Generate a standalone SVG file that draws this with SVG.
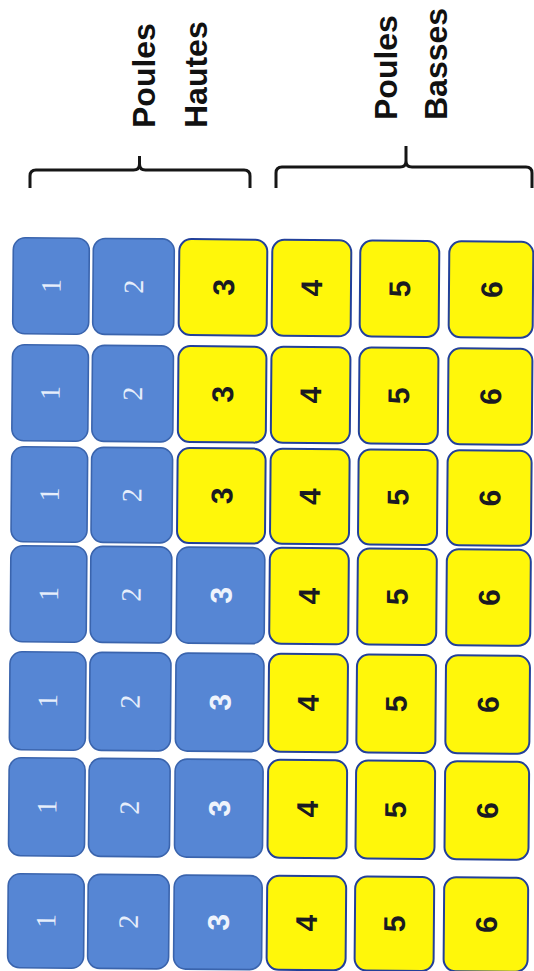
<svg xmlns="http://www.w3.org/2000/svg" width="534" height="971" viewBox="0 0 534 971">
<style>
.bg{fill:#ffffff}
.b rect{fill:#5686d4;stroke:#3a64ad;stroke-width:1.6}
.y rect{fill:#fff70a;stroke:#22409a;stroke-width:2}
.ns{font-family:"Liberation Serif","DejaVu Serif",serif;font-size:28px;fill:#e6eefb;text-anchor:middle}
.nb{font-family:"Liberation Sans","DejaVu Sans",sans-serif;font-weight:bold;font-size:30px;text-anchor:middle}
.y .nb{fill:#1a1a22}
.b .nb{fill:#eef3fc}
.lbl{font-family:"Liberation Sans","DejaVu Sans",sans-serif;font-weight:bold;font-size:32px;fill:#111111}
.br{fill:none;stroke:#161616;stroke-width:3;stroke-linecap:butt;stroke-linejoin:round}
</style>
<rect class="bg" x="0" y="0" width="534" height="971"/>
<g id="labels">
<text class="lbl" transform="translate(155,128) rotate(-90)">Poules</text>
<text class="lbl" transform="translate(207,128) rotate(-90)">Hautes</text>
<text class="lbl" transform="translate(397,120) rotate(-90)">Poules</text>
<text class="lbl" transform="translate(447,120) rotate(-90)">Basses</text>
</g>
<g id="connectors">
<path class="br" d="M30,188 V176 Q30,170 36,170 H133.5 Q139.5,170 139.5,164 V156 M139.5,164 Q139.5,170 145.5,170 H244 Q250,170 250,176 V188"/>
<path class="br" d="M276,188 V173 Q276,167 282,167 H400 Q406,167 406,161 V146 M406,161 Q406,167 412,167 H526 Q532,167 532,173 V188"/>
</g>
<g id="grid" transform="rotate(0.46 52 286)">
<!-- row 1 -->
<g id="r1c1" class="b"><rect x="13" y="238" width="76" height="96" rx="12"/><text class="ns" transform="translate(60.5,286) rotate(-90)">1</text></g>
<g id="r1c2" class="b"><rect x="93" y="238" width="81" height="96" rx="12"/><text class="ns" transform="translate(143,286) rotate(-90)">2</text></g>
<g id="r1c3" class="y"><rect x="179" y="238" width="88" height="96" rx="12"/><text class="nb" transform="translate(234,286) rotate(-90)">3</text></g>
<g id="r1c4" class="y"><rect x="272" y="238" width="79" height="96" rx="12"/><text class="nb" transform="translate(322,286) rotate(-90)">4</text></g>
<g id="r1c5" class="y"><rect x="360" y="238" width="79" height="96" rx="12"/><text class="nb" transform="translate(410,286) rotate(-90)">5</text></g>
<g id="r1c6" class="y"><rect x="449" y="238" width="84" height="96" rx="12"/><text class="nb" transform="translate(502,286) rotate(-90)">6</text></g>
<!-- row 2 -->
<g id="r2c1" class="b"><rect x="13" y="345" width="76" height="96" rx="12"/><text class="ns" transform="translate(60.5,393) rotate(-90)">1</text></g>
<g id="r2c2" class="b"><rect x="93" y="345" width="81" height="96" rx="12"/><text class="ns" transform="translate(143,393) rotate(-90)">2</text></g>
<g id="r2c3" class="y"><rect x="179" y="345" width="88" height="96" rx="12"/><text class="nb" transform="translate(234,393) rotate(-90)">3</text></g>
<g id="r2c4" class="y"><rect x="272" y="345" width="79" height="96" rx="12"/><text class="nb" transform="translate(322,393) rotate(-90)">4</text></g>
<g id="r2c5" class="y"><rect x="360" y="345" width="79" height="96" rx="12"/><text class="nb" transform="translate(410,393) rotate(-90)">5</text></g>
<g id="r2c6" class="y"><rect x="449" y="345" width="84" height="96" rx="12"/><text class="nb" transform="translate(502,393) rotate(-90)">6</text></g>
<!-- row 3 -->
<g id="r3c1" class="b"><rect x="13" y="447" width="76" height="95" rx="12"/><text class="ns" transform="translate(60.5,494.5) rotate(-90)">1</text></g>
<g id="r3c2" class="b"><rect x="93" y="447" width="81" height="95" rx="12"/><text class="ns" transform="translate(143,494.5) rotate(-90)">2</text></g>
<g id="r3c3" class="y"><rect x="179" y="447" width="88" height="95" rx="12"/><text class="nb" transform="translate(234,494.5) rotate(-90)">3</text></g>
<g id="r3c4" class="y"><rect x="272" y="447" width="79" height="95" rx="12"/><text class="nb" transform="translate(322,494.5) rotate(-90)">4</text></g>
<g id="r3c5" class="y"><rect x="360" y="447" width="79" height="95" rx="12"/><text class="nb" transform="translate(410,494.5) rotate(-90)">5</text></g>
<g id="r3c6" class="y"><rect x="449" y="447" width="84" height="95" rx="12"/><text class="nb" transform="translate(502,494.5) rotate(-90)">6</text></g>
<!-- row 4 -->
<g id="r4c1" class="b"><rect x="13" y="546" width="76" height="96" rx="12"/><text class="ns" transform="translate(60.5,594) rotate(-90)">1</text></g>
<g id="r4c2" class="b"><rect x="93" y="546" width="81" height="96" rx="12"/><text class="ns" transform="translate(143,594) rotate(-90)">2</text></g>
<g id="r4c3" class="b"><rect x="179" y="546" width="88" height="96" rx="12"/><text class="nb" transform="translate(234,594) rotate(-90)">3</text></g>
<g id="r4c4" class="y"><rect x="272" y="546" width="79" height="96" rx="12"/><text class="nb" transform="translate(322,594) rotate(-90)">4</text></g>
<g id="r4c5" class="y"><rect x="360" y="546" width="79" height="96" rx="12"/><text class="nb" transform="translate(410,594) rotate(-90)">5</text></g>
<g id="r4c6" class="y"><rect x="449" y="546" width="84" height="96" rx="12"/><text class="nb" transform="translate(502,594) rotate(-90)">6</text></g>
<!-- row 5 -->
<g id="r5c1" class="b"><rect x="13" y="652" width="76" height="98" rx="12"/><text class="ns" transform="translate(60.5,701) rotate(-90)">1</text></g>
<g id="r5c2" class="b"><rect x="93" y="652" width="81" height="98" rx="12"/><text class="ns" transform="translate(143,701) rotate(-90)">2</text></g>
<g id="r5c3" class="b"><rect x="179" y="652" width="88" height="98" rx="12"/><text class="nb" transform="translate(234,701) rotate(-90)">3</text></g>
<g id="r5c4" class="y"><rect x="272" y="652" width="79" height="98" rx="12"/><text class="nb" transform="translate(322,701) rotate(-90)">4</text></g>
<g id="r5c5" class="y"><rect x="360" y="652" width="79" height="98" rx="12"/><text class="nb" transform="translate(410,701) rotate(-90)">5</text></g>
<g id="r5c6" class="y"><rect x="449" y="652" width="84" height="98" rx="12"/><text class="nb" transform="translate(502,701) rotate(-90)">6</text></g>
<!-- row 6 -->
<g id="r6c1" class="b"><rect x="13" y="758" width="76" height="98" rx="12"/><text class="ns" transform="translate(60.5,807) rotate(-90)">1</text></g>
<g id="r6c2" class="b"><rect x="93" y="758" width="81" height="98" rx="12"/><text class="ns" transform="translate(143,807) rotate(-90)">2</text></g>
<g id="r6c3" class="b"><rect x="179" y="758" width="88" height="98" rx="12"/><text class="nb" transform="translate(234,807) rotate(-90)">3</text></g>
<g id="r6c4" class="y"><rect x="272" y="758" width="79" height="98" rx="12"/><text class="nb" transform="translate(322,807) rotate(-90)">4</text></g>
<g id="r6c5" class="y"><rect x="360" y="758" width="79" height="98" rx="12"/><text class="nb" transform="translate(410,807) rotate(-90)">5</text></g>
<g id="r6c6" class="y"><rect x="449" y="758" width="84" height="98" rx="12"/><text class="nb" transform="translate(502,807) rotate(-90)">6</text></g>
<!-- row 7 -->
<g id="r7c1" class="b"><rect x="13" y="874" width="76" height="94" rx="12"/><text class="ns" transform="translate(60.5,921) rotate(-90)">1</text></g>
<g id="r7c2" class="b"><rect x="93" y="874" width="81" height="94" rx="12"/><text class="ns" transform="translate(143,921) rotate(-90)">2</text></g>
<g id="r7c3" class="b"><rect x="179" y="874" width="88" height="94" rx="12"/><text class="nb" transform="translate(234,921) rotate(-90)">3</text></g>
<g id="r7c4" class="y"><rect x="272" y="874" width="79" height="94" rx="12"/><text class="nb" transform="translate(322,921) rotate(-90)">4</text></g>
<g id="r7c5" class="y"><rect x="360" y="874" width="79" height="94" rx="12"/><text class="nb" transform="translate(410,921) rotate(-90)">5</text></g>
<g id="r7c6" class="y"><rect x="449" y="874" width="84" height="94" rx="12"/><text class="nb" transform="translate(502,921) rotate(-90)">6</text></g>
</g>
</svg>
